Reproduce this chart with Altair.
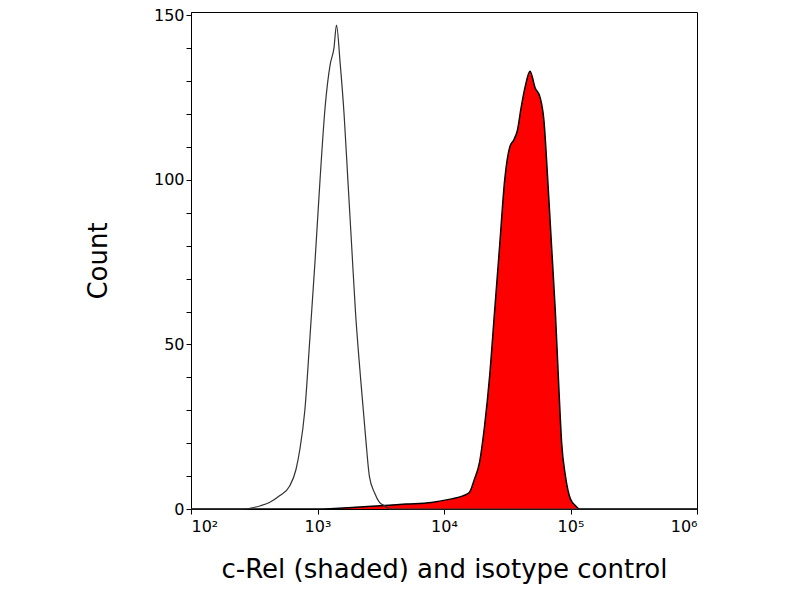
import altair as alt
import pandas as pd

# log10 of fluorescence intensity and counts
iso_x = [2.0, 2.4, 2.55, 2.62, 2.7, 2.78, 2.83, 2.86, 2.9, 2.94, 2.98, 3.02, 3.06, 3.1, 3.13,
         3.15, 3.18, 3.21, 3.24, 3.27, 3.3, 3.34, 3.38, 3.41, 3.45, 3.49, 3.53, 3.57, 4.0, 6.0]
iso_y = [0, 0, 1, 2, 4, 7, 12, 18, 30, 52, 75, 100, 122, 135, 140,
         147, 135, 120, 100, 80, 60, 40, 22, 10, 5, 2, 1, 0, 0, 0]

rel_x = [2.0, 3.0, 3.3, 3.5, 3.7, 3.9, 4.05, 4.15, 4.2, 4.24, 4.28, 4.32, 4.36, 4.4, 4.44, 4.48,
         4.52, 4.55, 4.58, 4.61, 4.64, 4.68, 4.72, 4.76, 4.79, 4.82, 4.85, 4.88, 4.91, 4.93,
         4.96, 5.0, 5.04, 5.07, 5.2, 6.0]
rel_y = [0, 0, 0.5, 1, 1.5, 2, 3, 4, 5, 9, 14, 25, 40, 60, 80, 100,
         110, 112, 115, 122, 128, 133, 128, 125, 118, 100, 80, 60, 35, 20,
         10, 3, 1, 0, 0, 0]

df_iso = pd.DataFrame({"x": iso_x, "y": iso_y})
df_rel = pd.DataFrame({"x": rel_x, "y": rel_y})

sup = "datum.value==2?'10²':datum.value==3?'10³':datum.value==4?'10⁴':datum.value==5?'10⁵':'10⁶'"

xenc = alt.X("x:Q", scale=alt.Scale(domain=[2, 6], nice=False),
             axis=alt.Axis(values=[2, 3, 4, 5, 6], labelExpr=sup,
                           title="c-Rel (shaded) and isotype control"))
yenc = alt.Y("y:Q", scale=alt.Scale(domain=[0, 151], nice=False),
             axis=alt.Axis(values=list(range(0, 151, 10)),
                           labelExpr="datum.value % 50 == 0 ? datum.value : ''",
                           title="Count"))

rel = alt.Chart(df_rel).mark_area(color="red", fillOpacity=1, opacity=1,
                                  line={"color": "black", "strokeWidth": 1.5},
                                  interpolate="monotone").encode(x=xenc, y=yenc)
iso = alt.Chart(df_iso).mark_line(color="#333333", strokeWidth=1.2,
                                  interpolate="monotone").encode(x=xenc, y=yenc)

chart = alt.layer(rel, iso).properties(
    width=506, height=497,
    autosize=alt.AutoSizeParams(type="none"),
    padding={"left": 183, "top": 4, "right": 95, "bottom": 91},
).configure_view(stroke="black", strokeWidth=1).configure_axis(
    grid=False, domainColor="black", tickColor="black", tickSize=5,
    labelFont="DejaVu Sans", labelFontSize=16, labelColor="black",
    titleFont="DejaVu Sans", titleFontSize=26, titleFontWeight="normal", titleColor="black",
).configure_axisY(titlePadding=42).configure_axisX(titlePadding=22, labelPadding=4)

chart.save("out.html", embed_options={"renderer": "svg", "actions": False})
